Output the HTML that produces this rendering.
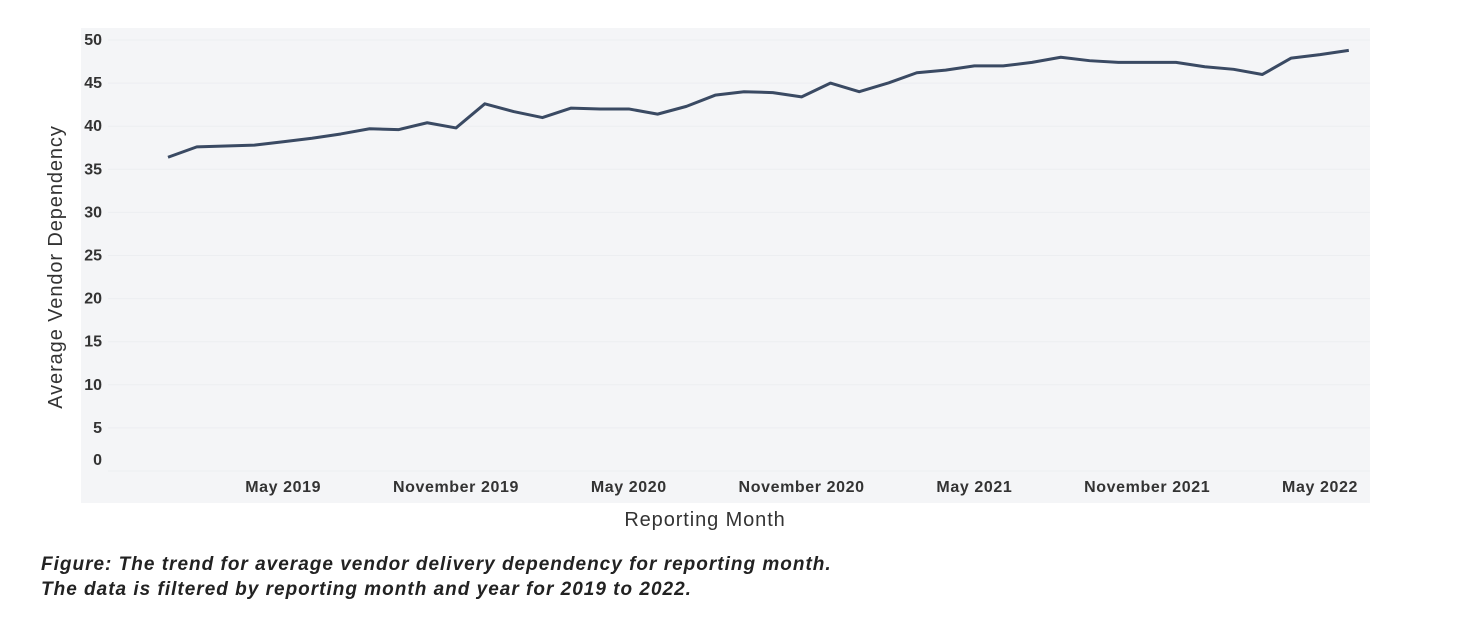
<!DOCTYPE html>
<html><head><meta charset="utf-8"><style>
body{margin:0;background:#fff;width:1462px;height:620px;overflow:hidden;font-family:"Liberation Sans",sans-serif}
.cap{position:absolute;left:41px;top:552px;font-weight:bold;font-style:italic;font-size:19px;letter-spacing:1px;color:#222;line-height:25px}
</style></head><body>
<svg id="chart" width="1462" height="540" style="position:absolute;left:0;top:0">
<rect x="81" y="28" width="1289" height="475" fill="#f4f5f7"/>
<g id="grid"></g><g id="yt"></g><g id="xt"></g>
<path id="line" fill="none" stroke="#3a4a63" stroke-width="3" stroke-linejoin="round"/>
<text transform="translate(62,267) rotate(-90)" text-anchor="middle" font-size="20" letter-spacing="0.9" fill="#333">Average Vendor Dependency</text>
<text x="705" y="526" text-anchor="middle" font-size="20" letter-spacing="0.9" fill="#333">Reporting Month</text>
</svg>
<div class="cap">Figure: The trend for average vendor delivery dependency for reporting month.<br>The data is filtered by reporting month and year for 2019 to 2022.</div>
<script>
const values=[36.4,37.6,37.7,37.8,38.2,38.6,39.1,39.7,39.6,40.4,39.8,42.6,41.7,41.0,42.1,42.0,42.0,41.4,42.3,43.6,44.0,43.9,43.4,45.0,44.0,45.0,46.2,46.5,47.0,47.0,47.4,48.0,47.6,47.4,47.4,47.4,46.9,46.6,46.0,47.9,48.3,48.8];
const yTicks=[0,5,10,15,20,25,30,35,40,45,50];
const xLabels=["May 2019","November 2019","May 2020","November 2020","May 2021","November 2021","May 2022"];
const xLabelIdx=[4,10,16,22,28,34,40];
const NS="http://www.w3.org/2000/svg";
const y=v=>471-v*8.62, x=i=>168+i*28.8;
const grid=document.getElementById('grid'),yt=document.getElementById('yt'),xt=document.getElementById('xt');
yTicks.forEach(t=>{
 const l=document.createElementNS(NS,'line');
 
 
 l.setAttribute('x1',108);l.setAttribute('x2',1370);l.setAttribute('y1',y(t));l.setAttribute('y2',y(t));
 l.setAttribute('stroke','#eceef1');grid.appendChild(l);
 const tx=document.createElementNS(NS,'text');
 
 
 tx.setAttribute('x',102);tx.setAttribute('y',(t===0?y(t)-11:y(t))+5);tx.setAttribute('text-anchor','end');
 tx.setAttribute('font-size','16');tx.setAttribute('font-weight','bold');tx.setAttribute('fill','#333');
 tx.textContent=t;yt.appendChild(tx);
});
xLabels.forEach((s,k)=>{
 const tx=document.createElementNS(NS,'text');
 
 
 tx.setAttribute('x',x(xLabelIdx[k]));tx.setAttribute('y',492);tx.setAttribute('text-anchor','middle');
 tx.setAttribute('font-size','16');tx.setAttribute('letter-spacing','0.6');tx.setAttribute('font-weight','bold');tx.setAttribute('fill','#333');
 tx.textContent=s;xt.appendChild(tx);
});
document.getElementById('line').setAttribute('d',values.map((v,i)=>(i?'L':'M')+x(i)+','+y(v)).join(''));
</script>
</body></html>
